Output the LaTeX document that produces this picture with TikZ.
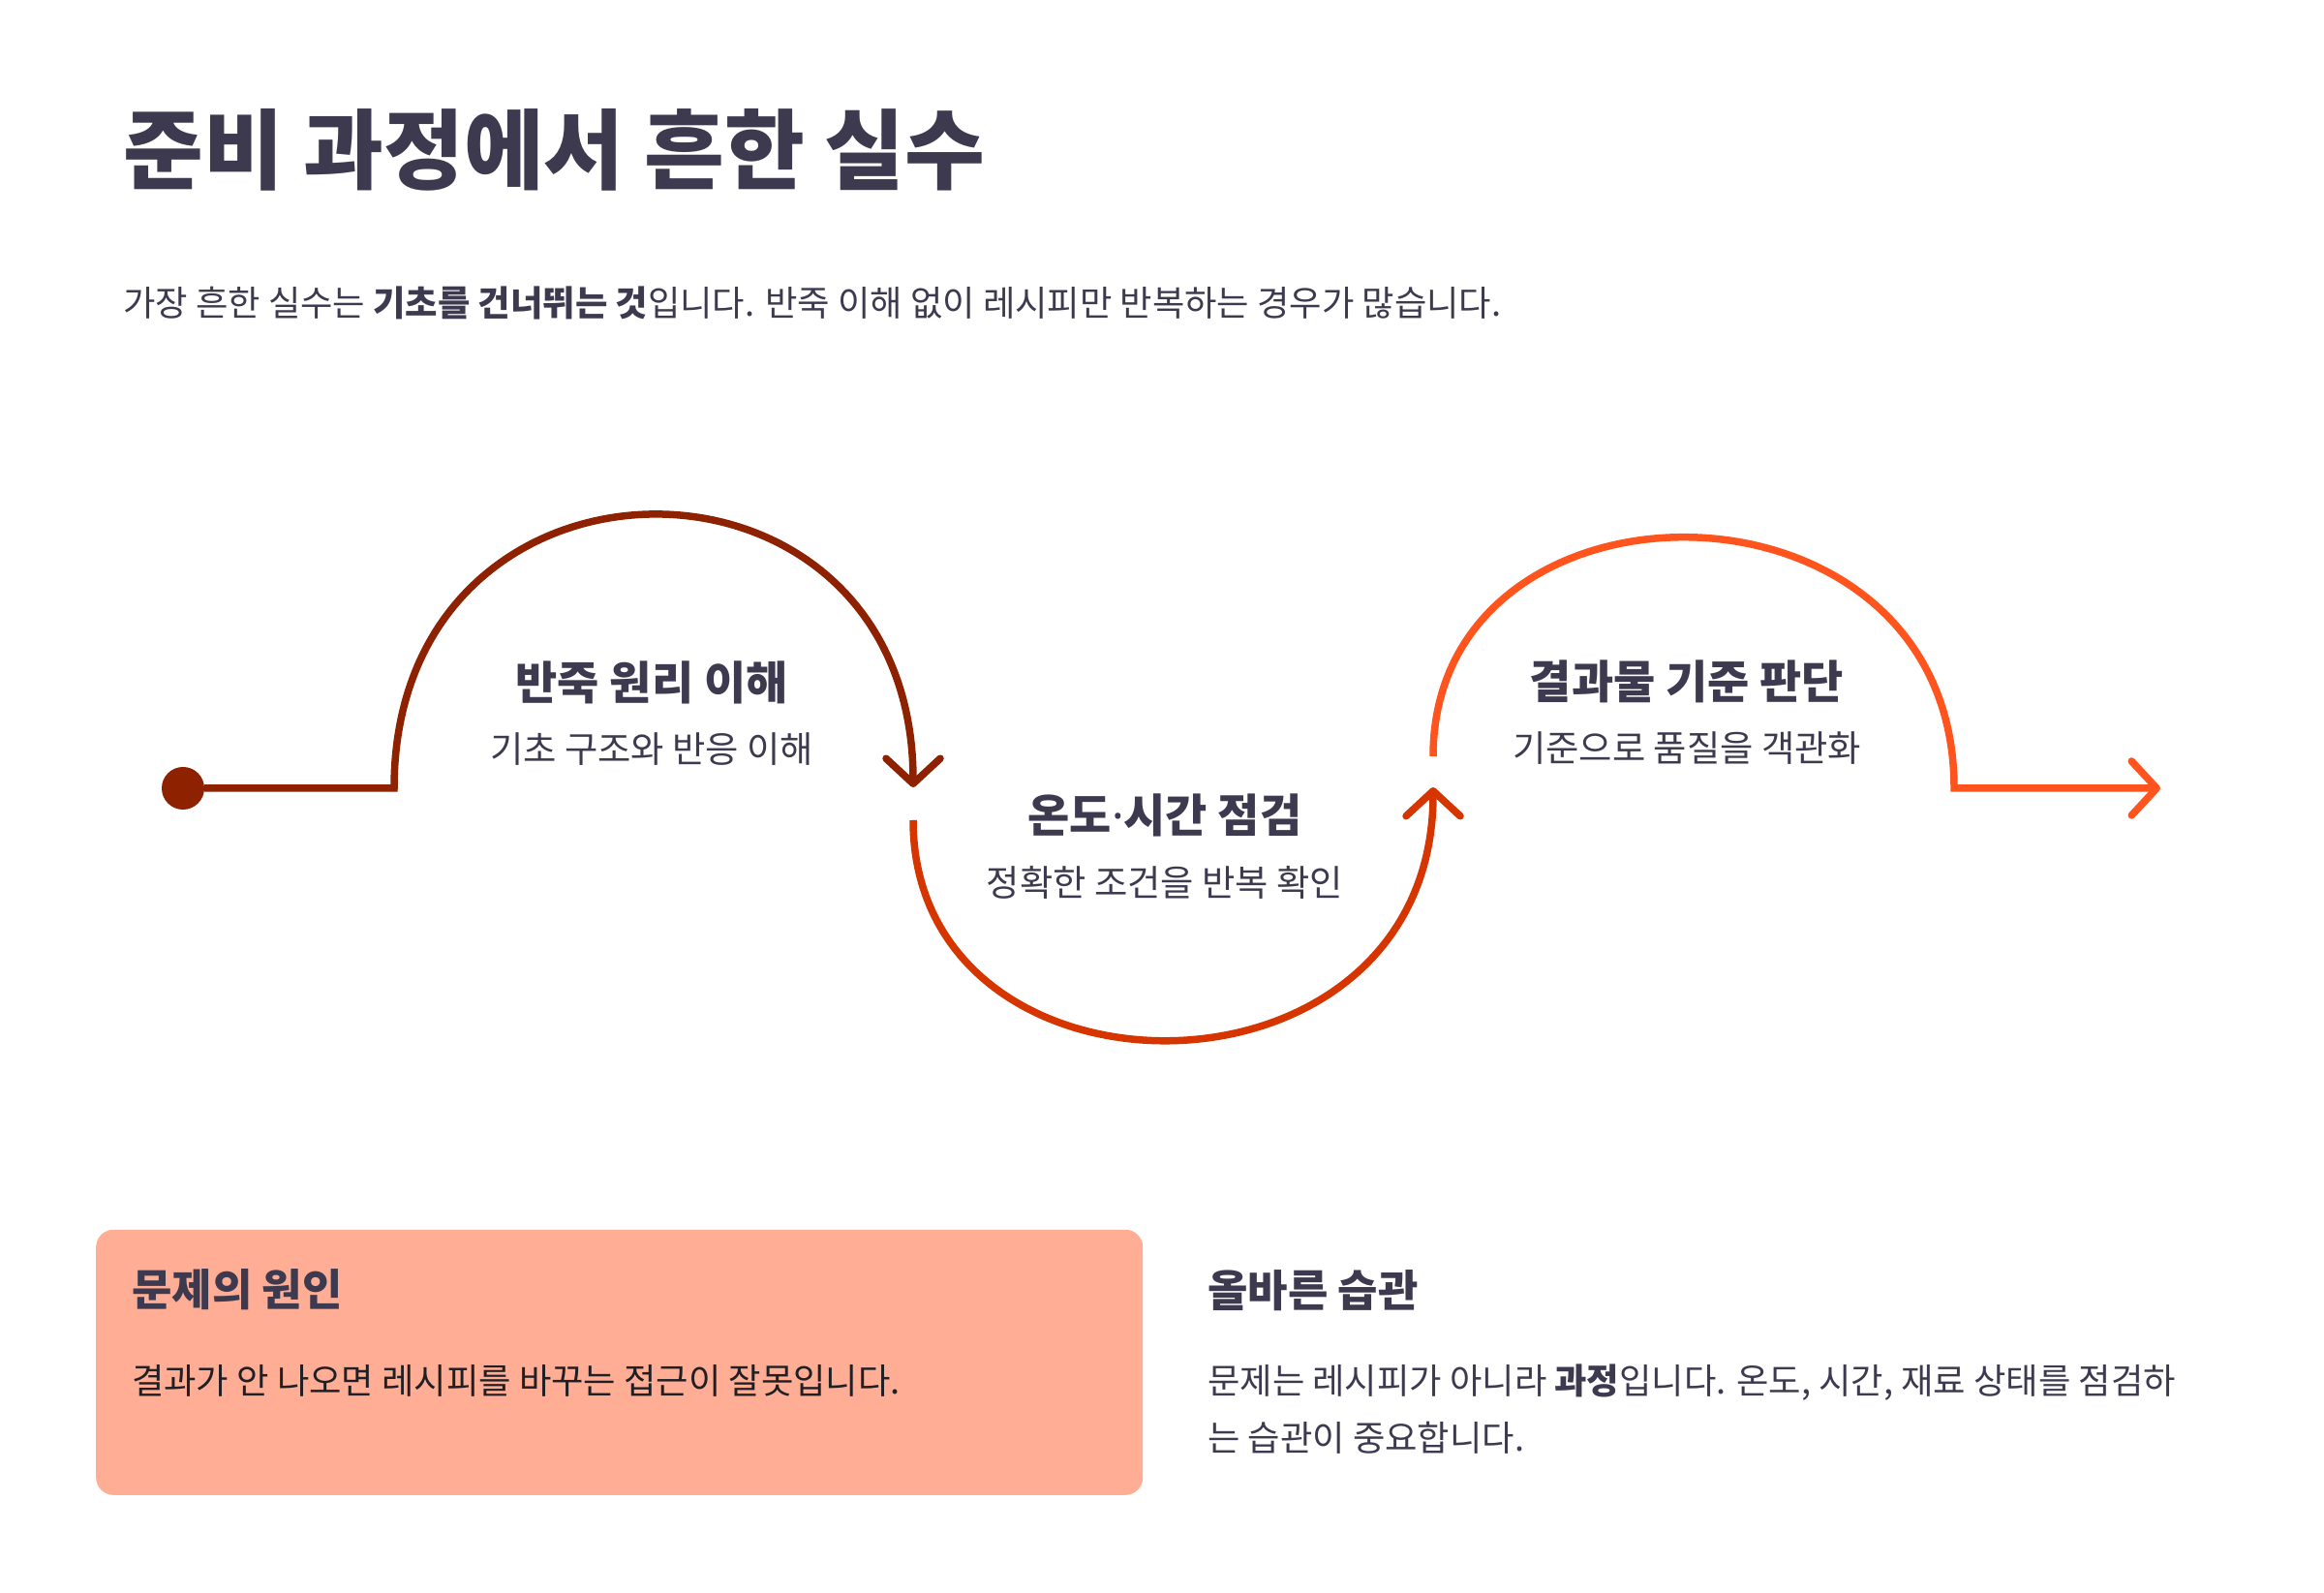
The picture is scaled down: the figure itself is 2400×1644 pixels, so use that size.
\documentclass[tikz,border=0pt]{standalone}
\usepackage{fontspec}
\setmainfont{Noto Sans CJK KR}
\newfontfamily\latinfont{Noto Sans}
\usetikzlibrary{arrows.meta}

\definecolor{ink}{HTML}{3D3A4F}
\definecolor{deepink}{HTML}{1F1F24}
\definecolor{stepone}{HTML}{8E2200}
\definecolor{steptwo}{HTML}{D63500}
\definecolor{stepthree}{HTML}{FF541D}
\definecolor{peach}{HTML}{FFAD94}

\begin{document}
\begin{tikzpicture}[x=1pt, y=1pt,
  headline/.style={anchor=west, inner sep=0pt, text=ink, font=\fontsize{90}{110}\selectfont\bfseries},
  lead/.style={anchor=west, inner sep=0pt, text=ink, font=\fontsize{36.3}{44}\selectfont},
  steptitle/.style={inner sep=0pt, text=ink, font=\fontsize{47}{56}\selectfont\bfseries},
  stepnote/.style={inner sep=0pt, text=ink, font=\fontsize{37.3}{44}\selectfont},
  boxhead/.style={anchor=west, inner sep=0pt, text=ink, font=\fontsize{45}{54}\selectfont\bfseries},
  flow/.style={line width=7.5pt},
  barbtip/.style={-{Straight Barb[length=26pt, width=56pt, round]}}]
  % Page
  \fill[white] (0,0) rectangle (2400,1644);
  \useasboundingbox (0,0) rectangle (2400,1644);
  % Heading
  \node[headline] (title) at (127,1489) {준비 과정에서 흔한 실수};
  \node[lead] (intro) at (127,1331)
    {가장 흔한 실수는 \textbf{기초를 건너뛰는 것}입니다. 반죽 이해 없이 레시피만 반복하는 경우가 많습니다.};
  % Path points
  \node[circle, fill=stepone, minimum size=44pt, inner sep=0pt] (origin) at (189,830) {};
  \coordinate (rise1) at (407,830);
  \coordinate (drop1) at (943,831);
  \coordinate (dip2) at (943,797);
  \coordinate (rise2) at (1480,831);
  \coordinate (jump3) at (1480,863);
  \coordinate (land3) at (2018,830);
  \coordinate (finish) at (2231,830);
  % Step 1
  \draw[flow, stepone, barbtip] (origin) -- (rise1)
    .. controls +(0,376) and +(0,375) .. (drop1);
  % Step 2
  \draw[flow, steptwo, barbtip] (dip2)
    .. controls +(0,-308) and +(0,-342) .. (rise2);
  % Step 3
  \draw[flow, stepthree, barbtip] (jump3)
    .. controls +(0,307) and +(0,340) .. (land3) -- (finish);
  % Step labels
  \node[steptitle] (dough) at (673,939) {반죽 원리 이해};
  \node[stepnote] (doughnote) at (673,870) {기초 구조와 반응 이해};
  \node[steptitle] (check) at (1203,802) {온도{\latinfont\bfseries ·}시간 점검};
  \node[stepnote] (checknote) at (1203,733) {정확한 조건을 반복 확인};
  \node[steptitle] (judge) at (1742,940) {결과물 기준 판단};
  \node[stepnote] (judgenote) at (1742,871) {기준으로 품질을 객관화};
  % Cause box
  \node[fill=peach, rounded corners=18pt, minimum width=1081pt, minimum height=274pt,
    inner sep=0pt, anchor=south west] (causebox) at (99,100) {};
  \node[boxhead] (causehead) at (136,312) {문제의 원인};
  \node[lead, text=deepink] (causetext) at (136,218)
    {결과가 안 나오면 레시피를 바꾸는 접근이 잘못입니다.};
  % Habit column
  \node[boxhead] (habithead) at (1247,311) {올바른 습관};
  \node[lead, align=left, font=\fontsize{36.3}{59}\selectfont] (habittext) at (1247,189)
    {문제는 레시피가 아니라 \textbf{과정}입니다. 온도, 시간, 재료 상태를 점검하\\는 습관이 중요합니다.};
\end{tikzpicture}
\end{document}
